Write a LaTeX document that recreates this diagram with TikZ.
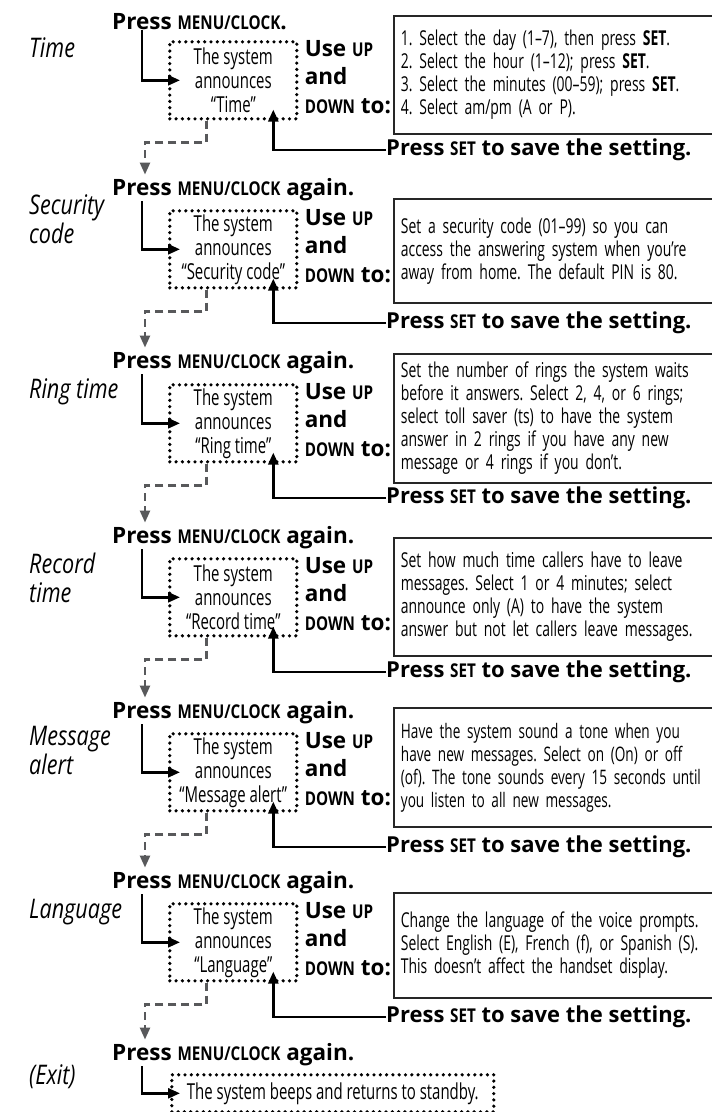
\documentclass[tikz,border=0pt]{standalone}
\usepackage{fontspec}
\setmainfont{Open Sans}
\newfontfamily\condfont[FakeStretch=0.68]{Open Sans}
\newfontfamily\narrowfont[FakeStretch=0.8]{Open Sans}
\usetikzlibrary{arrows.meta,positioning}
\definecolor{dashgray}{HTML}{58595B}
\frenchspacing
\newcommand{\keyname}[1]{{\narrowfont\bfseries\fontsize{19}{19}\selectfont #1}}
\newcommand{\useupdown}{Use \keyname{UP}\\and\\\keyname{DOWN} to:}
\newcommand{\savesetting}{Press \keyname{SET} to save the setting.}
\tikzstyle{dots}=[draw,line width=3.6pt,line cap=round,dash pattern=on 0pt off 6.3pt]
\tikzstyle{press}=[anchor=west,inner sep=0pt,font=\bfseries\fontsize{22.5}{26}\selectfont]
\tikzstyle{save}=[press,font=\bfseries\fontsize{22}{26}\selectfont]
\tikzstyle{setting}=[anchor=west,inner sep=0pt,align=left,font=\narrowfont\itshape\fontsize{27}{29}\selectfont]
\tikzstyle{announce}=[dots,anchor=north west,inner sep=0pt,minimum width=127pt,minimum height=77pt,align=center,font=\condfont\fontsize{22}{24}\selectfont]
\tikzstyle{updown}=[inner sep=0pt,align=left,font=\bfseries\fontsize{22.5}{28.5}\selectfont]
\tikzstyle{info}=[draw=black!85,line width=1.8pt,anchor=north west,text width=330pt,inner xsep=7pt,align=left,font=\condfont\fontsize{20.5}{23}\selectfont]
\tikzstyle{hit}=[line width=2.5pt,-{Triangle[length=12pt,width=10pt]}]
\tikzstyle{next}=[hit,draw=dashgray,dash pattern=on 8pt off 5pt]

\begin{document}
\begin{tikzpicture}[x=1pt,y=-1pt]
\path[use as bounding box] (0,0) rectangle (712,1112);

% Time
\node[press] (press1) at (112,22) {Press \keyname{MENU/CLOCK}.};
\node[setting] (time) at (29,48) {Time};
\node[announce] (ann1) at (168,40) {The system\\announces\\“Time”};
\node[updown,right=6pt of ann1.north east,anchor=north west] (ud1) {\useupdown};
\node[info,minimum height=118pt] (info1) at (393,15) {1. Select the day (1–7), then press \textbf{SET}.\\2. Select the hour (1–12); press \textbf{SET}.\\3. Select the minutes (00–59); press \textbf{SET}.\\4. Select am/pm (A or P).};
\node[save] (save1) at (386,150) {\savesetting};

% Security code
\node[press] (press2) at (112,190) {Press \keyname{MENU/CLOCK} again.};
\node[setting] (security) at (29,219) {Security\\code};
\node[announce] (ann2) at (168,209) {The system\\announces\\“Security code”};
\node[updown,right=6pt of ann2.north east,anchor=north west] (ud2) {\useupdown};
\node[info,minimum height=104pt] (info2) at (393,198) {Set a security code (01–99) so you can\\access the answering system when you’re\\away from home. The default PIN is 80.};
\node[save] (save2) at (386,323) {\savesetting};

% Ring time
\node[press] (press3) at (112,363) {Press \keyname{MENU/CLOCK} again.};
\node[setting] (ring) at (29,392) {Ring time};
\node[announce] (ann3) at (168,383) {The system\\announces\\“Ring time”};
\node[updown,right=6pt of ann3.north east,anchor=north west] (ud3) {\useupdown};
\node[info,minimum height=129pt] (info3) at (393,353) {Set the number of rings the system waits\\before it answers. Select 2, 4, or 6 rings;\\select toll saver (ts) to have the system\\answer in 2 rings if you have any new\\message or 4 rings if you don’t.};
\node[save] (save3) at (386,498) {\savesetting};

% Record time
\node[press] (press4) at (112,538) {Press \keyname{MENU/CLOCK} again.};
\node[setting] (record) at (29,578) {Record\\time};
\node[announce] (ann4) at (168,557) {The system\\announces\\“Record time”};
\node[updown,right=6pt of ann4.north east,anchor=north west] (ud4) {\useupdown};
\node[info,minimum height=118pt] (info4) at (393,537) {Set how much time callers have to leave\\messages. Select 1 or 4 minutes; select\\announce only (A) to have the system\\answer but not let callers leave messages.};
\node[save] (save4) at (386,672) {\savesetting};

% Message alert
\node[press] (press5) at (112,713) {Press \keyname{MENU/CLOCK} again.};
\node[setting] (alert) at (29,750) {Message\\alert};
\node[announce] (ann5) at (168,732) {The system\\announces\\“Message alert”};
\node[updown,right=6pt of ann5.north east,anchor=north west] (ud5) {\useupdown};
\node[info,minimum height=119pt,font=\condfont\fontsize{20}{23}\selectfont] (info5) at (393,707) {Have the system sound a tone when you\\have new messages. Select on (On) or off\\(of). The tone sounds every 15 seconds until\\you listen to all new messages.};
\node[save] (save5) at (386,847) {\savesetting};

% Language
\node[press] (press6) at (112,883) {Press \keyname{MENU/CLOCK} again.};
\node[setting] (language) at (29,912) {Language};
\node[announce] (ann6) at (168,902) {The system\\announces\\“Language”};
\node[updown,right=6pt of ann6.north east,anchor=north west] (ud6) {\useupdown};
\node[info,minimum height=105pt] (info6) at (393,892) {Change the language of the voice prompts.\\Select English (E), French (f), or Spanish (S).\\This doesn’t affect the handset display.};
\node[save] (save6) at (386,1017) {\savesetting};

% Exit
\node[press] (press7) at (112,1055) {Press \keyname{MENU/CLOCK} again.};
\node[setting] (exit) at (29,1077) {(Exit)};
\node[announce,minimum width=322pt,minimum height=37pt] (beep) at (170,1073) {The system beeps and returns to standby.};

\draw[hit] ([xshift=30pt]press1.south west) |- ([xshift=12pt]ann1.west);
\draw[hit] ([xshift=30pt]press2.south west) |- ([xshift=12pt]ann2.west);
\draw[hit] ([xshift=30pt]press3.south west) |- ([xshift=12pt]ann3.west);
\draw[hit] ([xshift=30pt]press4.south west) |- ([xshift=12pt]ann4.west);
\draw[hit] ([xshift=30pt]press5.south west) |- ([xshift=12pt]ann5.west);
\draw[hit] ([xshift=30pt]press6.south west) |- ([xshift=12pt]ann6.west);
\draw[hit] ([xshift=30pt]press7.south west) |- ([xshift=10pt]beep.west);

\draw[hit] (save1.west) -| ([xshift=40pt,yshift=11pt]ann1.south);
\draw[hit] (save2.west) -| ([xshift=40pt,yshift=11pt]ann2.south);
\draw[hit] (save3.west) -| ([xshift=40pt,yshift=11pt]ann3.south);
\draw[hit] (save4.west) -| ([xshift=40pt,yshift=11pt]ann4.south);
\draw[hit] (save5.west) -| ([xshift=40pt,yshift=11pt]ann5.south);
\draw[hit] (save6.west) -| ([xshift=40pt,yshift=11pt]ann6.south);

\draw[next] ([xshift=-27pt]ann1.south) -- ++(0,22) -| ([xshift=33pt,yshift=4pt]press2.north west);
\draw[next] ([xshift=-27pt]ann2.south) -- ++(0,22) -| ([xshift=33pt,yshift=4pt]press3.north west);
\draw[next] ([xshift=-27pt]ann3.south) -- ++(0,22) -| ([xshift=33pt,yshift=4pt]press4.north west);
\draw[next] ([xshift=-27pt]ann4.south) -- ++(0,22) -| ([xshift=33pt,yshift=4pt]press5.north west);
\draw[next] ([xshift=-27pt]ann5.south) -- ++(0,22) -| ([xshift=33pt,yshift=4pt]press6.north west);
\draw[next] ([xshift=-27pt]ann6.south) -- ++(0,22) -| ([xshift=33pt,yshift=4pt]press7.north west);

\end{tikzpicture}
\end{document}
